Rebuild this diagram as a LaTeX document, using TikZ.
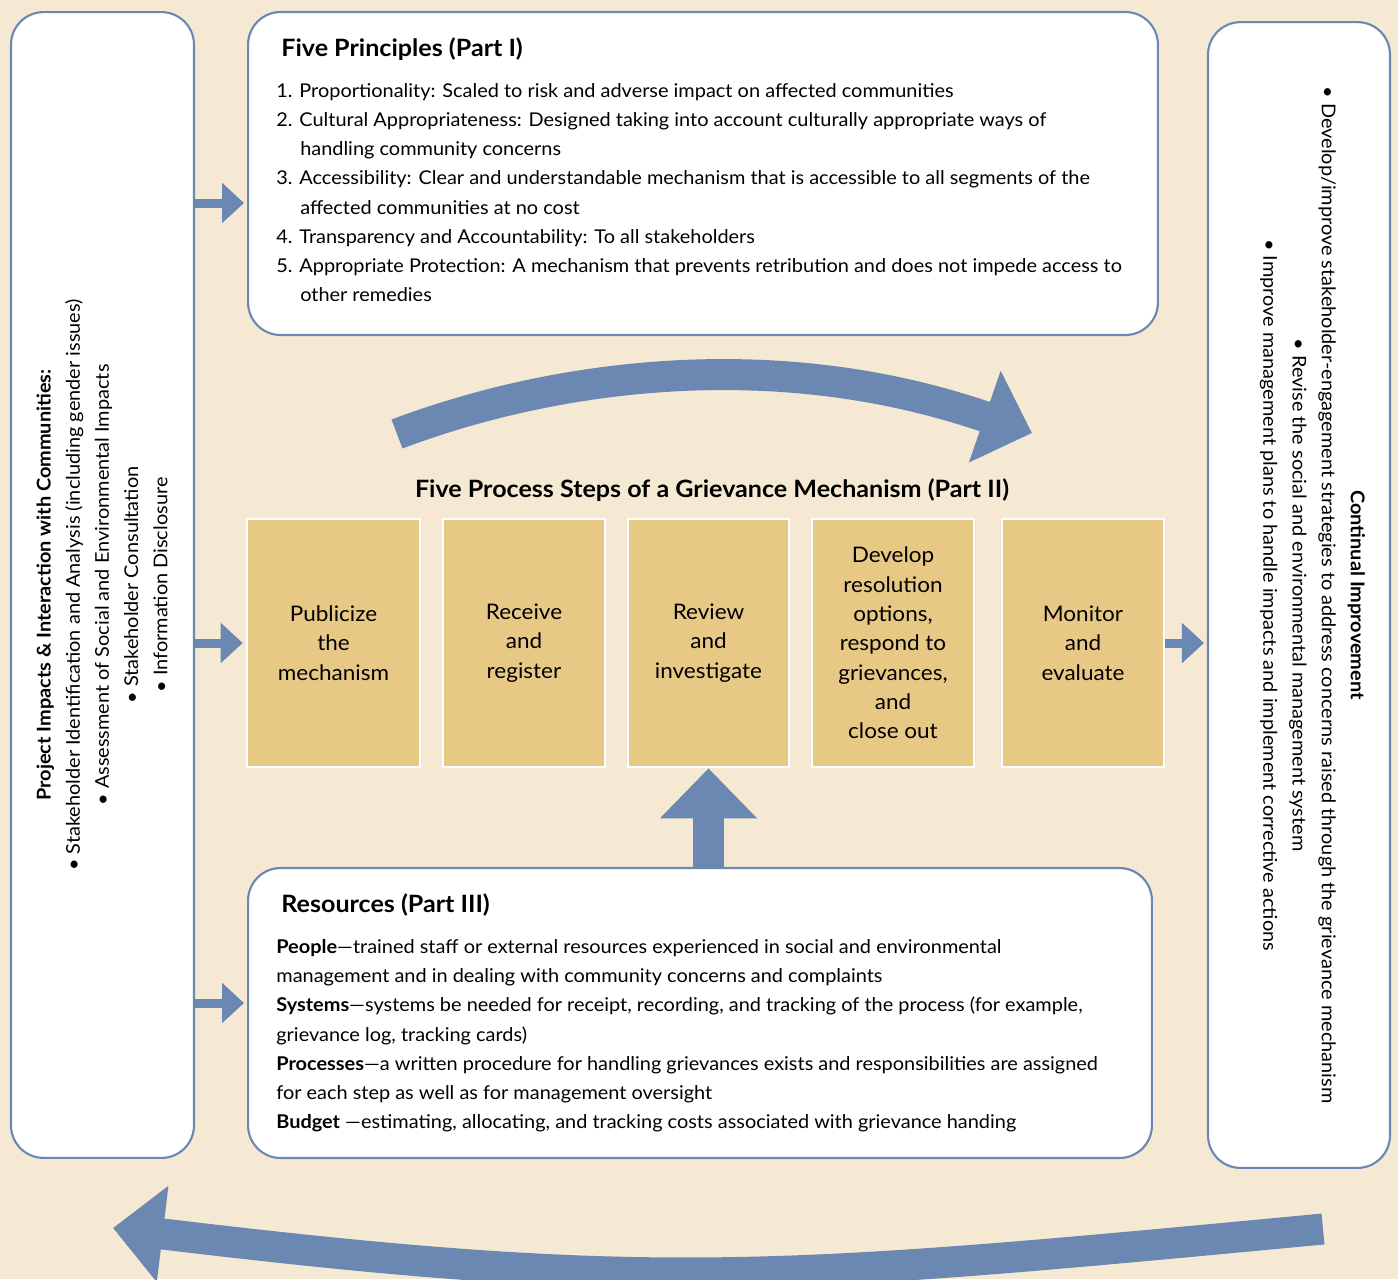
\documentclass[tikz,border=0pt]{standalone}
\usepackage{fontspec}
\setmainfont{Lato}[FakeStretch=1.05]
\usetikzlibrary{arrows.meta,positioning}
\definecolor{paper}{HTML}{F5E9D3}
\definecolor{flowblue}{HTML}{6B88B2}
\definecolor{stepgold}{HTML}{E8C885}
\newcommand{\bodyfont}{\fontsize{10.8}{16.6}\selectfont}
\newcommand{\boxfont}{\fontsize{12.2}{16.7}\selectfont}
\newcommand{\headfont}{\fontsize{13.6}{16.7}\selectfont\bfseries}

\begin{document}
\begin{tikzpicture}[x=0.02cm, y=-0.02cm,
  panel/.style={draw=flowblue, line width=1.2pt, fill=white, rounded corners=0.65cm, inner sep=0pt},
  stepbox/.style={draw=white, line width=1.5pt, fill=stepgold, minimum height=4.96cm, inner sep=0pt, align=center, font=\boxfont},
  feed/.style={flowblue, line width=0.18cm, shorten >=0.06cm, -{Triangle[width=0.78cm, length=0.44cm]}},
  bigflow/.style={flowblue, line width=0.62cm, -{Triangle[width=1.88cm, length=1.0cm]}}]
\useasboundingbox (0,0) rectangle (1398,1279);
\clip (0,0) rectangle (1398,1279);
\fill[paper] (0,0) rectangle (1398,1279);
%
% panels
\node[panel, minimum width=3.66cm, minimum height=22.92cm] (impacts) at (102.5,585) {};
\node[panel, minimum width=18.2cm, minimum height=6.46cm] (principles) at (703,173.5) {};
\node[panel, minimum width=18.08cm, minimum height=5.8cm] (resources) at (700,1013) {};
\node[panel, minimum width=3.64cm, minimum height=22.92cm] (improve) at (1299,595) {};
%
\node[rotate=90, align=center, font=\bodyfont] (impactstext) at (102,585)
  {\textbf{Project Impacts \& Interaction with Communities:}\\
   • Stakeholder Identification and Analysis (including gender issues)\\
   • Assessment of Social and Environmental Impacts\\
   • Stakeholder Consultation\\
   • Information Disclosure};
\node[rotate=-90, align=center, font=\bodyfont] (improvetext) at (1312.5,595)
  {\textbf{Continual Improvement}\\
   • Develop/improve stakeholder-engagement strategies to address concerns raised through the grievance mechanism\\
   • Revise the social and environmental management system\\
   • Improve management plans to handle impacts and implement corrective actions};
%
\node[anchor=base west, font=\headfont, inner sep=0pt] (principleshead) at (281,56.5) {Five Principles (Part I)};
\node[anchor=base west, align=left, font=\bodyfont, inner sep=0pt] (principleslist) at (276,301.6)
  {1. Proportionality: Scaled to risk and adverse impact on affected communities\\
   2. Cultural Appropriateness: Designed taking into account culturally appropriate ways of\\
   \hspace*{13.6pt}handling community concerns\\
   3. Accessibility: Clear and understandable mechanism that is accessible to all segments of the\\
   \hspace*{13.6pt}affected communities at no cost\\
   4. Transparency and Accountability: To all stakeholders\\
   5. Appropriate Protection: A mechanism that prevents retribution and does not impede access to\\
   \hspace*{13.6pt}other remedies};
%
\node[anchor=base west, font=\headfont, inner sep=0pt] (resourceshead) at (281,912.5) {Resources (Part III)};
\node[anchor=base west, align=left, font=\bodyfont, inner sep=0pt] (resourceslist) at (276,1128.6)
  {\textbf{People}—trained staff or external resources experienced in social and environmental\\
   management and in dealing with community concerns and complaints\\
   \textbf{Systems}—systems be needed for receipt, recording, and tracking of the process (for example,\\
   grievance log, tracking cards)\\
   \textbf{Processes}—a written procedure for handling grievances exists and responsibilities are assigned\\
   for each step as well as for management oversight\\
   \textbf{Budget} —estimating, allocating, and tracking costs associated with grievance handing};
%
% process steps
\node[font=\headfont] (stepstitle) at (712,490) {Five Process Steps of a Grievance Mechanism (Part II)};
\node[stepbox, minimum width=3.46cm] (publicize) at (333.5,643) {Publicize\\the\\mechanism};
\node[stepbox, minimum width=3.24cm] (receive) at (524,643) {Receive\\and\\register};
\node[stepbox, minimum width=3.22cm] (review) at (708.5,643) {Review\\and\\investigate};
\node[stepbox, minimum width=3.24cm] (resolve) at (893,643) {Develop\\resolution\\options,\\respond to\\grievances,\\and\\close out};
\node[stepbox, minimum width=3.24cm] (monitor) at (1083,643) {Monitor\\and\\evaluate};
%
% arrows
\coordinate (feedA) at (0,203);
\coordinate (feedC) at (0,1003);
\draw[feed] (impacts.east |- feedA) -- (principles.west |- feedA);
\draw[feed] (impacts.east |- publicize.west) -- (publicize.west);
\draw[feed] (impacts.east |- feedC) -- (resources.west |- feedC);
\draw[feed] (monitor.east) -- (improve.west |- monitor.east);
\draw[bigflow] (resources.north -| review.south) -- (review.south);
%
\draw[bigflow] (397,434) .. controls (553,375) and (775,344) .. (1032,433);
\draw[bigflow] (1323,1229) .. controls (781,1280) and (654,1293) .. (113,1228);
\end{tikzpicture}
\end{document}
